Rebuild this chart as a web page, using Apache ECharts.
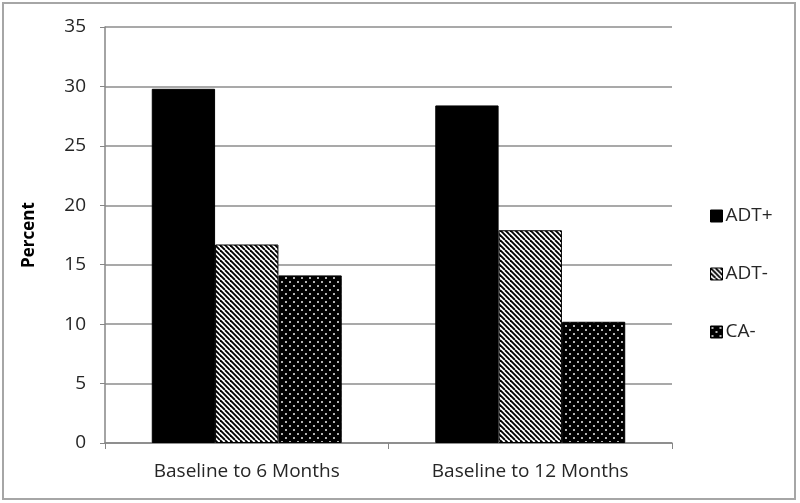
<!DOCTYPE html>
<html><head><meta charset="utf-8">
<script src="https://cdn.jsdelivr.net/npm/echarts@6/dist/echarts.min.js"></script>
<style>html,body{margin:0;padding:0;background:#fff}#c{width:800px;height:503px}</style>
</head><body><div id="c"></div>
<script>
const categories = ['Baseline to 6 Months', 'Baseline to 12 Months'];
const seriesNames = ['ADT+', 'ADT-', 'CA-'];
const adtPlus = [29.8, 28.4];
const adtMinus = [16.7, 17.9];
const caMinus = [14.1, 10.2];
const yTicks = [0, 5, 10, 15, 20, 25, 30, 35];

function stripes() {
  const c = document.createElement('canvas'); c.width = 10; c.height = 10;
  const g = c.getContext('2d');
  g.fillStyle = '#fff'; g.fillRect(0, 0, 10, 10);
  g.strokeStyle = '#000'; g.lineWidth = 1.9;
  for (let k = -20; k <= 20; k += 5) {
    g.beginPath(); g.moveTo(k, 0); g.lineTo(k + 10, 10); g.stroke();
  }
  return c;
}
function dots() {
  const c = document.createElement('canvas'); c.width = 8; c.height = 8;
  const g = c.getContext('2d');
  g.fillStyle = '#000'; g.fillRect(0, 0, 8, 8);
  g.fillStyle = '#fff';
  [[2, 2], [6, 6]].forEach(p => { g.beginPath(); g.arc(p[0], p[1], 0.95, 0, Math.PI * 2); g.fill(); });
  return c;
}
const fills = ['#000', { image: stripes(), repeat: 'repeat' }, { image: dots(), repeat: 'repeat' }];
const data = [adtPlus, adtMinus, caMinus];

const chart = echarts.init(document.getElementById('c'), null, { renderer: 'canvas' });
chart.setOption({
  animation: false,
  backgroundColor: '#fff',
  graphic: [{ type: 'rect', shape: { x: 3, y: 3, width: 792, height: 496 }, style: { fill: 'none', stroke: '#a6a6a6', lineWidth: 2 } }],
  grid: { left: 105, right: 128, top: 27, bottom: 60 },
  legend: {
    orient: 'vertical', left: 705, top: 201, itemWidth: 12, itemHeight: 12, itemGap: 38, icon: 'rect',
    data: seriesNames, itemStyle: { borderColor: '#000', borderWidth: 1 },
    textStyle: { fontFamily: 'Open Sans', fontSize: 19, color: '#262626', lineHeight: 20, padding: [0, 0, 0, -2] }
  },
  xAxis: {
    type: 'category', data: categories,
    axisLine: { lineStyle: { color: '#868686', width: 1.5 } },
    axisTick: { show: true, length: 6, lineStyle: { color: '#868686' } },
    axisLabel: { fontFamily: 'Open Sans', fontSize: 19, color: '#262626', margin: 19 }
  },
  yAxis: {
    type: 'value', min: 0, max: 35, interval: 5,
    name: 'Percent', nameLocation: 'middle', nameGap: 67, nameRotate: 90,
    nameTextStyle: { fontFamily: 'Open Sans', fontSize: 17, fontWeight: 'bold', color: '#000' },
    axisLine: { show: true, lineStyle: { color: '#868686', width: 1.5 } },
    axisTick: { show: true, length: 5, lineStyle: { color: '#868686' } },
    splitLine: { lineStyle: { color: '#8c8c8c', width: 1.5 } },
    axisLabel: { fontFamily: 'Open Sans', fontSize: 19, color: '#262626', margin: 19,
      formatter: v => yTicks.includes(v) ? String(v) : '' }
  },
  series: seriesNames.map((n, i) => ({
    name: n, type: 'bar', data: data[i], barGap: '0%', barCategoryGap: '33%',
    itemStyle: { color: fills[i], borderColor: '#000', borderWidth: 1 }
  }))
});
</script></body></html>
